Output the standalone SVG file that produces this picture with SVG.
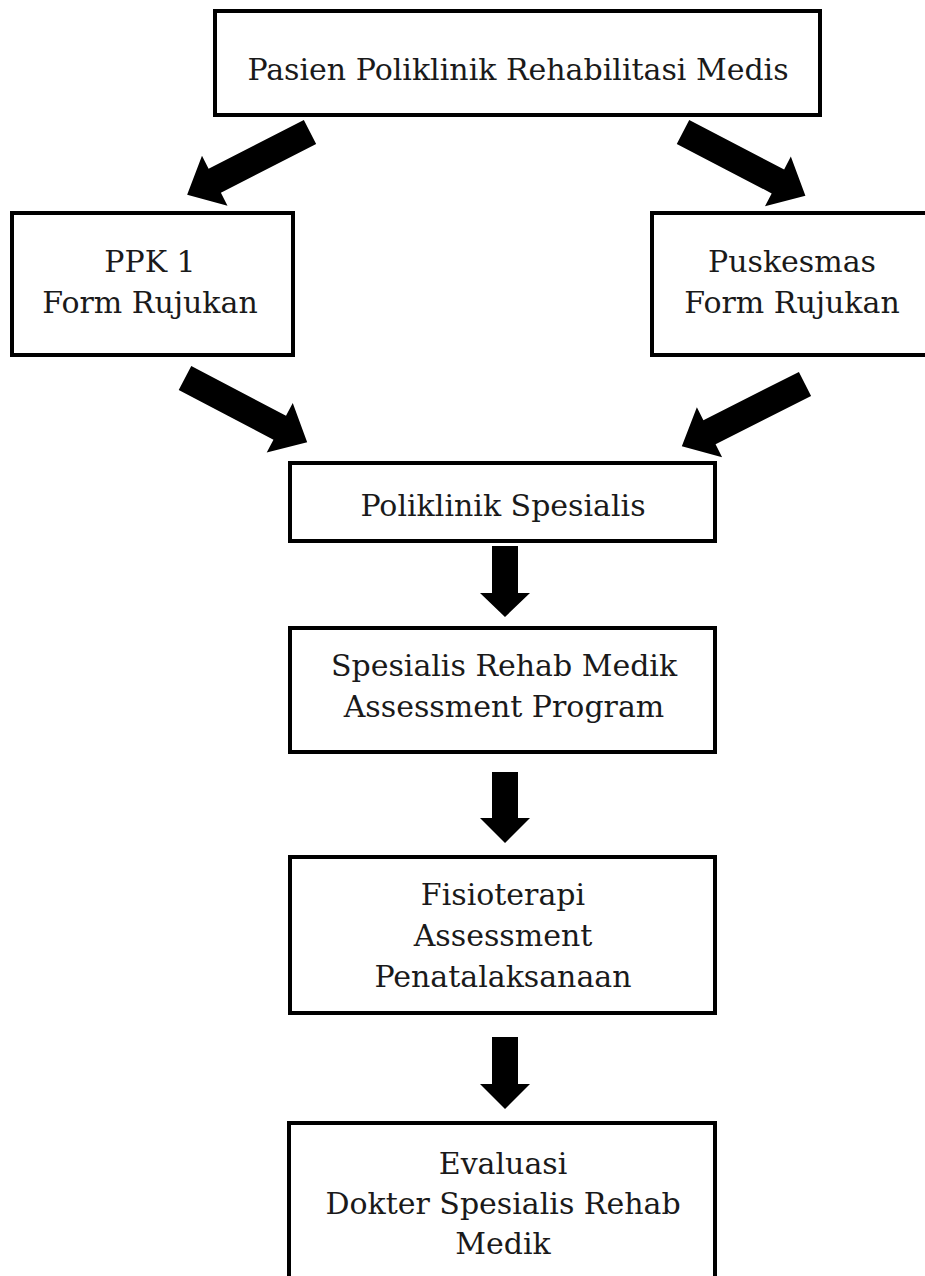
<svg xmlns="http://www.w3.org/2000/svg" width="925" height="1276" viewBox="0 0 925 1276">
<style>
.box{fill:#fff;stroke:#000;stroke-width:4}
.t{font-family:"DejaVu Serif",serif;font-size:30px;fill:#1a1a1a;text-anchor:middle}
.arr{fill:#000}
</style>
<defs>
<path id="diag" d="M0,-13.5 H107 V-28 L138,0 L107,28 V13.5 H0 Z"/>
</defs>
<rect width="925" height="1276" fill="#fff"/>
<g id="connectors">
<use href="#diag" class="arr" transform="translate(310,132) rotate(152.9)"/>
<use href="#diag" class="arr" transform="translate(683,132) rotate(27.5)"/>
<use href="#diag" class="arr" transform="translate(185,378) rotate(27.7)"/>
<use href="#diag" class="arr" transform="translate(805,384) rotate(153.2)"/>
<path class="arr" d="M492,546 H518 V593 H530 L505,617 L480,593 H492 Z"/>
<path class="arr" d="M492,772 H518 V818 H530 L505,843 L480,818 H492 Z"/>
<path class="arr" d="M492,1037 H518 V1084 H530 L505,1109 L480,1084 H492 Z"/>
</g>
<g id="n1">
<rect class="box" x="215" y="11" width="605" height="104"/>
<text class="t" x="518" y="80">Pasien Poliklinik Rehabilitasi Medis</text>
</g>
<g id="n2">
<rect class="box" x="12" y="213" width="281" height="142"/>
<text class="t" x="150" y="272">PPK 1</text>
<text class="t" x="150" y="313">Form Rujukan</text>
</g>
<g id="n3">
<rect class="box" x="652" y="213" width="280" height="142"/>
<text class="t" x="792" y="272">Puskesmas</text>
<text class="t" x="792" y="313">Form Rujukan</text>
</g>
<g id="n4">
<rect class="box" x="290" y="463" width="425" height="78"/>
<text class="t" x="503" y="516">Poliklinik Spesialis</text>
</g>
<g id="n5">
<rect class="box" x="290" y="628" width="425" height="124"/>
<text class="t" x="504" y="676">Spesialis Rehab Medik</text>
<text class="t" x="504" y="717">Assessment Program</text>
</g>
<g id="n6">
<rect class="box" x="290" y="857" width="425" height="156"/>
<text class="t" x="503" y="905">Fisioterapi</text>
<text class="t" x="503" y="946">Assessment</text>
<text class="t" x="503" y="987">Penatalaksanaan</text>
</g>
<g id="n7">
<rect class="box" x="289" y="1123" width="426" height="170"/>
<text class="t" x="503" y="1174">Evaluasi</text>
<text class="t" x="503" y="1214">Dokter Spesialis Rehab</text>
<text class="t" x="503" y="1254">Medik</text>
</g>
</svg>
